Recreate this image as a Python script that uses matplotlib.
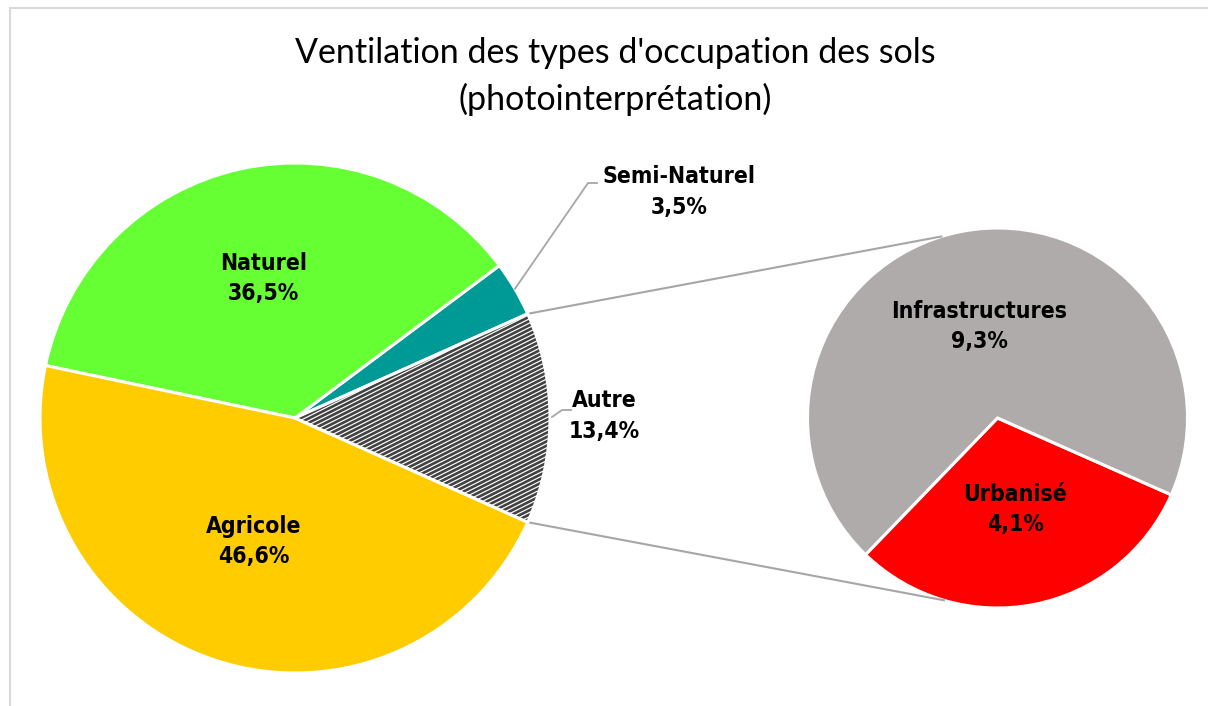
import numpy as np
import matplotlib
matplotlib.use("Agg")
import matplotlib.pyplot as plt
from matplotlib.collections import LineCollection
from matplotlib.patches import Wedge, Rectangle

# ---------------- data ----------------
main_labels = ["Autre", "Semi-Naturel", "Naturel", "Agricole"]
main_values = [13.4, 3.5, 36.5, 46.6]
main_colors = ["#ffffff", "#009a96", "#66ff33", "#ffcc00"]

sub_labels = ["Urbanisé", "Infrastructures"]
sub_values = [4.1, 9.3]
sub_colors = ["#ff0000", "#afabab"]

title_lines = ["Ventilation des types d'occupation des sols", "(photointerprétation)"]

# ---------------- layout ----------------
W, H = 1208, 706
def Y(y):
    return H - y

fig = plt.figure(figsize=(W / 100, H / 100), dpi=100)
ax = fig.add_axes([0, 0, 1, 1])

lab_font = dict(family=["Liberation Sans Narrow", "DejaVu Sans"], weight="bold",
                stretch="condensed", fontsize=16.5, color="black")

def fmt(v):
    return f"{v:.1f}%".replace(".", ",")

def pol(c, r, ang):
    a = np.deg2rad(ang)
    return c[0] + r * np.cos(a), c[1] + r * np.sin(a)

# main pie
c1 = (295, Y(418))
r1 = 255
total = sum(main_values)
start1 = -main_values[0] / total * 360 / 2
wedges1, _ = ax.pie(main_values, colors=main_colors, startangle=start1, counterclock=True,
                    center=c1, radius=r1, frame=True,
                    wedgeprops=dict(edgecolor="white", linewidth=2.2))

# second pie
c2 = (997.5, Y(418))
r2 = 190
wedges2, _ = ax.pie(sub_values, colors=sub_colors, startangle=226, counterclock=True,
                    center=c2, radius=r2, frame=True,
                    wedgeprops=dict(edgecolor="white", linewidth=2.2))

ax.set_xlim(0, W)
ax.set_ylim(0, H)
ax.set_aspect("equal")
ax.axis("off")

# chart frame
ax.add_patch(Rectangle((10, Y(712)), 1210, 704, fill=False, edgecolor="#d9d9d9", lw=1.5))

# hatch for "Autre"
aw = wedges1[0]
lines = []
for b in np.arange(-400, 400, 4.3):
    x0, x1 = c1[0] - 20, c1[0] + r1 + 20
    lines.append([(x0, c1[1] + b), (x1, c1[1] + b + 0.5 * (x1 - x0))])
lc = LineCollection(lines, colors="#424242", linewidths=1.9, zorder=3)
ax.add_collection(lc)
lc.set_clip_path(aw)
ax.add_patch(Wedge(c1, r1, aw.theta1, aw.theta2, facecolor="none", edgecolor="white",
                   lw=2.2, zorder=4))

# connectors
gray = "#a6a6a6"
for ang_main, ang_sub in [(aw.theta2, 107.2), (aw.theta1, -106.4)]:
    p = pol(c1, r1, ang_main)
    q = pol(c2, r2, ang_sub)
    ax.plot([p[0], q[0]], [p[1], q[1]], color=gray, lw=1.5, zorder=1)

# inside labels
inside = {2: 0.56, 3: 0.51}
for i, frac in inside.items():
    w = wedges1[i]
    mid = (w.theta1 + w.theta2) / 2
    x, y = pol(c1, r1 * frac, mid)
    ax.text(x - 1, y, f"{main_labels[i]}\n{fmt(main_values[i])}", ha="center", va="center",
            linespacing=1.4, zorder=6, **lab_font)

for i, w in enumerate(wedges2):
    mid = (w.theta1 + w.theta2) / 2
    x, y = pol(c2, r2 * 0.49, mid)
    ax.text(x, y, f"{sub_labels[i]}\n{fmt(sub_values[i])}", ha="center", va="center",
            linespacing=1.4, zorder=6, **lab_font)

# outside labels with leaders
w = wedges1[1]
mid = (w.theta1 + w.theta2) / 2
p = pol(c1, r1, mid)
ax.plot([p[0], 588, 597], [p[1], Y(183), Y(183)], color=gray, lw=1.3, zorder=5)
ax.text(679, Y(192), f"{main_labels[1]}\n{fmt(main_values[1])}", ha="center", va="center",
        linespacing=1.4, zorder=6, **lab_font)

p = pol(c1, r1, 0)
ax.plot([p[0] + 2, 562, 571], [Y(417), Y(410), Y(410)], color=gray, lw=1.3, zorder=5)
ax.text(604, Y(416), f"{main_labels[0]}\n{fmt(main_values[0])}", ha="center", va="center",
        linespacing=1.4, zorder=6, **lab_font)

for txt, yb in zip(title_lines, [63, 110]):
    ax.text(615, Y(yb), txt, ha="center", va="baseline", fontsize=24.5,
            family=["Lato", "DejaVu Sans"], color="black")

fig.savefig("out.png", dpi=100)
